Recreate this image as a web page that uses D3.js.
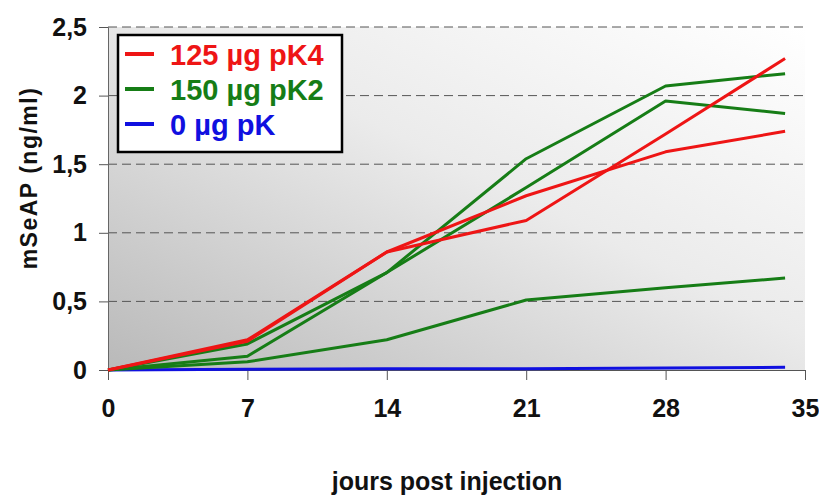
<!DOCTYPE html>
<html>
<head>
  <meta charset="UTF-8">
  <title></title>
  <style>
    body{ margin:0; background:#fff; }
    text{ font-family: 'Liberation Sans', Arial, sans-serif; font-weight:bold; }
    .grid line{ stroke:#555; stroke-dasharray:9,5; stroke-width:1; }
    .series{ fill:none; stroke-width:3; stroke-linejoin:round; }
  </style>
</head>
<body>
  <script src="https://cdnjs.cloudflare.com/ajax/libs/d3/7.8.5/d3.min.js"></script>
  <script>
/// data
var days = [0, 7, 14, 21, 28, 34];
var xTicks = [0, 7, 14, 21, 28, 35];
var yTicks = [0, 0.5, 1, 1.5, 2, 2.5];
var yTickLabels = ["0", "0,5", "1", "1,5", "2", "2,5"];

var red1 = [0, 0.22, 0.86, 1.27, 1.59, 1.74];
var red2 = [0, 0.21, 0.86, 1.09, 1.72, 2.27];
var green1 = [0, 0.19, 0.71, 1.54, 2.07, 2.16];
var green2 = [0, 0.10, 0.71, 1.33, 1.96, 1.87];
var green3 = [0, 0.06, 0.22, 0.51, 0.60, 0.67];
var blue1 = [0, 0.005, 0.01, 0.01, 0.015, 0.02];

var legendLabels = ["125 µg pK4", "150 µg pK2", "0 µg pK"];
var legendColors = ["#ee1515", "#167d16", "#1010e0"];

var series = [
  {values: blue1, color: legendColors[2], width: 4},
  {values: green3, color: legendColors[1], width: 3},
  {values: green2, color: legendColors[1], width: 3},
  {values: green1, color: legendColors[1], width: 3},
  {values: red1, color: legendColors[0], width: 3},
  {values: red2, color: legendColors[0], width: 3}
];

/// main
var width = 819, height = 495;
var svg = d3.select("body").append("svg")
    .attr("width", width)
    .attr("height", height);

var x = d3.scaleLinear().domain([0, 35]).range([108, 805]);
var y = d3.scaleLinear().domain([0, 2.5]).range([370, 27]);

// background gradient
var grad = svg.append("defs").append("linearGradient")
    .attr("id", "bg")
    .attr("x1", 1).attr("y1", 0).attr("x2", 0).attr("y2", 1);
grad.append("stop").attr("offset", "0%").attr("stop-color", "#ffffff");
grad.append("stop").attr("offset", "45%").attr("stop-color", "#ebebeb");
grad.append("stop").attr("offset", "100%").attr("stop-color", "#b9b9b9");

svg.append("rect")
    .attr("x", x(0)).attr("y", y(2.5))
    .attr("width", x(35) - x(0)).attr("height", y(0) - y(2.5))
    .attr("fill", "url(#bg)");

// dashed grid
svg.append("g").attr("class", "grid")
  .selectAll("line")
  .data(yTicks.slice(1))
  .enter().append("line")
    .attr("x1", x(0)).attr("x2", x(35))
    .attr("y1", function(d) { return y(d); })
    .attr("y2", function(d) { return y(d); });

// y axis
var yAxis = d3.axisLeft(y)
    .tickValues(yTicks)
    .tickSize(9)
    .tickPadding(12)
    .tickFormat(function(d, i) { return yTickLabels[i]; });
var gy = svg.append("g")
    .attr("transform", "translate(" + x(0) + ",0)")
    .call(yAxis);
gy.select(".domain").attr("stroke", "#666");
gy.selectAll(".tick line").attr("stroke", "#555");
gy.selectAll("text")
    .attr("fill", "#111")
    .style("font-size", "25px");

// x axis
var xAxis = d3.axisBottom(x)
    .tickValues(xTicks)
    .tickSize(10)
    .tickPadding(19);
var gx = svg.append("g")
    .attr("transform", "translate(0," + y(0) + ")")
    .call(xAxis);
gx.select(".domain").attr("stroke", "#555");
gx.selectAll(".tick line").attr("stroke", "#555");
gx.selectAll("text")
    .attr("fill", "#111")
    .style("font-size", "25px");

// lines
var line = d3.line()
    .x(function(d, i) { return x(days[i]); })
    .y(function(d) { return y(d); });

svg.append("g").selectAll("path")
  .data(series)
  .enter().append("path")
    .attr("class", "series")
    .attr("d", function(d) { return line(d.values); })
    .attr("stroke", function(d) { return d.color; })
    .attr("stroke-width", function(d) { return d.width; });

// axis titles
svg.append("text")
    .attr("x", 447).attr("y", 490)
    .attr("text-anchor", "middle")
    .attr("fill", "#111")
    .style("font-size", "25px")
    .text("jours post injection");

svg.append("text")
    .attr("transform", "translate(37,178) rotate(-90)")
    .attr("text-anchor", "middle")
    .attr("fill", "#111")
    .style("font-size", "23px")
    .style("letter-spacing", "1.5px")
    .text("mSeAP (ng/ml)");

// legend
var legend = svg.append("g").attr("class", "legend");
legend.append("rect")
    .attr("x", 118).attr("y", 35)
    .attr("width", 224).attr("height", 117)
    .attr("fill", "#fff")
    .attr("stroke", "#000")
    .attr("stroke-width", 2.5);

var items = legend.selectAll("g.item")
  .data(legendLabels)
  .enter().append("g")
    .attr("class", "item")
    .attr("transform", function(d, i) { return "translate(0," + (i * 35) + ")"; });

items.append("line")
    .attr("x1", 125).attr("x2", 154)
    .attr("y1", 54).attr("y2", 54)
    .attr("stroke", function(d, i) { return legendColors[i]; })
    .attr("stroke-width", 4);

items.append("text")
    .attr("x", 170).attr("y", 65)
    .attr("fill", function(d, i) { return legendColors[i]; })
    .style("font-size", "29px")
    .text(function(d) { return d; });
  </script>
</body>
</html>
